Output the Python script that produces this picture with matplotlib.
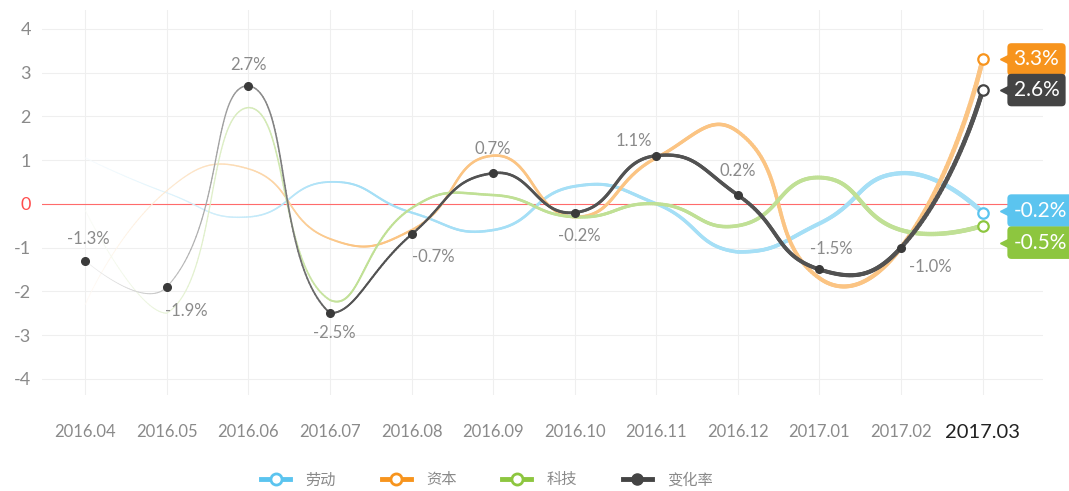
import matplotlib
matplotlib.use('Agg')
import matplotlib.pyplot as plt
from matplotlib.collections import LineCollection
from matplotlib.lines import Line2D
from matplotlib.transforms import offset_copy
import numpy as np

plt.rcParams['font.family'] = ['Lato', 'Noto Sans CJK SC', 'DejaVu Sans']

months = ['2016.04', '2016.05', '2016.06', '2016.07', '2016.08', '2016.09',
          '2016.10', '2016.11', '2016.12', '2017.01', '2017.02', '2017.03']
labor = [1.05, 0.25, -0.3, 0.5, -0.2, -0.6, 0.4, 0.0, -1.1, -0.45, 0.7, -0.2]
capital = [-2.3, 0.3, 0.8, -0.8, -0.6, 1.1, -0.3, 1.05, 1.65, -1.7, -1.0, 3.3]
tech = [-0.15, -2.5, 2.2, -2.2, -0.1, 0.2, -0.3, 0.0, -0.5, 0.6, -0.6, -0.5]
change = [-1.3, -1.9, 2.7, -2.5, -0.7, 0.7, -0.2, 1.1, 0.2, -1.5, -1.0, 2.6]

names = ['劳动', '资本', '科技', '变化率']
colors = ['#5bc4ef', '#f7941d', '#8dc63f', '#444444']

W, H, DPI = 1069, 491, 100
fig = plt.figure(figsize=(W / DPI, H / DPI), dpi=DPI)
ax = fig.add_axes([42 / W, 96 / H, (1043 - 42) / W, (395 - 10) / H])
ax.set_xlim(-0.53, 11.74)
ax.set_ylim(-4.37, 4.43)

SX, SY = 81.6, 43.75   # pixels per unit on x and y


def smooth_curve(ys, smooth=0.5, n=60):
    # echarts-like bezier smoothing in pixel space, control points kept in the data box
    pts = np.column_stack([np.arange(len(ys)) * SX, np.array(ys) * SY])
    lo, hi = pts.min(axis=0), pts.max(axis=0)
    m = len(pts)
    before, after = [], []
    for i in range(m):
        cur = pts[i]
        if i == 0 or i == m - 1:
            before.append(cur.copy())
            after.append(cur.copy())
            continue
        prv, nxt = pts[i - 1], pts[i + 1]
        v = nxt - prv
        d0 = np.hypot(*(cur - prv))
        d1 = np.hypot(*(cur - nxt))
        s = d0 + d1
        d0, d1 = d0 / s, d1 / s
        before.append(np.clip(cur - v * smooth * d0, lo, hi))
        after.append(np.clip(cur + v * smooth * d1, lo, hi))
    t = np.linspace(0, 1, n)[:, None]
    out = []
    for i in range(m - 1):
        p0, p1, p2, p3 = pts[i], after[i], before[i + 1], pts[i + 1]
        seg = ((1 - t) ** 3) * p0 + 3 * ((1 - t) ** 2) * t * p1 + 3 * (1 - t) * t ** 2 * p2 + t ** 3 * p3
        out.append(seg if i == 0 else seg[1:])
    out = np.vstack(out)
    return out[:, 0] / SX, out[:, 1] / SY


def draw_series(ys, color, max_alpha, z):
    x, y = smooth_curve(ys)
    p = np.column_stack([x, y])
    segs = np.stack([p[:-1], p[1:]], axis=1)
    xm = (x[:-1] + x[1:]) / 2
    width_px = 0.6 + 4.0 * (xm / 11) ** 0.9
    fade = np.clip(0.08 + 0.92 * xm / 3.3, 0, 1)
    a = (max_alpha * fade)[:, None]
    base = np.array(matplotlib.colors.to_rgb(color))[None, :]
    rgb = 1 - (1 - base) * a   # blended on white
    lc = LineCollection(segs, colors=rgb, linewidths=width_px * 0.72,
                        capstyle='round', joinstyle='round', zorder=z)
    ax.add_collection(lc)


# grid and zero line
for v in range(-4, 5):
    if v != 0:
        ax.axhline(v, color='#efefef', lw=0.8, zorder=0)
for i in range(len(months)):
    ax.axvline(i, color='#efefef', lw=0.8, zorder=0)
ax.axhline(0, color='#ff6b6b', lw=0.8, zorder=1)

series = [labor, capital, tech, change]
for k, (ys, c) in enumerate(zip(series, colors)):
    draw_series(ys, c if k < 3 else '#333333', 0.55 if k < 3 else 0.85, 2 + k)

xs = np.arange(len(months))
# dark dots for change rate
ax.plot(xs[:-1], change[:-1], 'o', color='#3a3a3a', ms=5.5, zorder=8)
# open end markers
for ys, c in zip(series, colors):
    ax.plot(xs[-1], ys[-1], 'o', mfc='white', mec=c, mew=1.6, ms=7.5, zorder=9)

# labels for change rate
offsets = [(3, 22), (19, -24), (0, 21), (4, -20), (22, -23), (0, 24),
           (5, -23), (-22, 15), (0, 24), (12, 20), (29, -19)]
for i, (dx, dy) in enumerate(offsets):
    ax.annotate(f'{change[i]:.1f}%', xy=(i, change[i]), xytext=(dx * 0.72, dy * 0.72),
                textcoords='offset points', ha='center', va='center',
                fontsize=12, color='#8a8a8a', zorder=10)

# end callouts
shifts = [(0, 2), (1, 0), (2, -17), (3, 0)]
for k, dy in shifts:
    ys, c = series[k], colors[k]
    ax.annotate(f'{ys[-1]:.1f}%', xy=(11, ys[-1]), xytext=(31 * 0.72, dy * 0.72),
                textcoords='offset points', ha='left', va='center', fontsize=15,
                color='white', annotation_clip=False, zorder=11,
                bbox=dict(boxstyle='round,pad=0.3,rounding_size=0.2', fc=c, ec='none'))
    tr = offset_copy(ax.transData, fig=fig, x=23 * 0.72, y=dy * 0.72, units='points')
    ax.plot(11, ys[-1], marker='<', color=c, ms=8, transform=tr, clip_on=False, zorder=11)

ax.set_xticks(xs)
ax.set_xticklabels(months)
for i, lab in enumerate(ax.get_xticklabels()):
    if i == len(months) - 1:
        lab.set_fontsize(14.5)
        lab.set_color('#222222')
    else:
        lab.set_fontsize(12)
        lab.set_color('#8a8a8a')
ax.set_yticks(range(-4, 5))
ax.set_yticklabels([str(v) for v in range(-4, 5)])
for lab in ax.get_yticklabels():
    lab.set_fontsize(13)
    lab.set_color('#ff4d4d' if lab.get_text() == '0' else '#8a8a8a')
ax.tick_params(length=0)
ax.tick_params(axis='x', pad=21)
ax.tick_params(axis='y', pad=8)
for s in ax.spines.values():
    s.set_visible(False)

handles = []
for k, c in enumerate(colors):
    if k < 3:
        handles.append(Line2D([], [], color=c, lw=3.5, marker='o', mfc='white', mec=c, mew=2, ms=8))
    else:
        handles.append(Line2D([], [], color=c, lw=3.5, marker='o', mfc=c, mec=c, ms=8))
fig.legend(handles, names, loc='center', bbox_to_anchor=(487 / W, 11 / H), ncol=4,
           frameon=False, fontsize=11, handlelength=1.9, handletextpad=1.0,
           columnspacing=3.0, labelcolor='#8a8a8a')

fig.savefig('out.png', dpi=DPI, facecolor='white')
